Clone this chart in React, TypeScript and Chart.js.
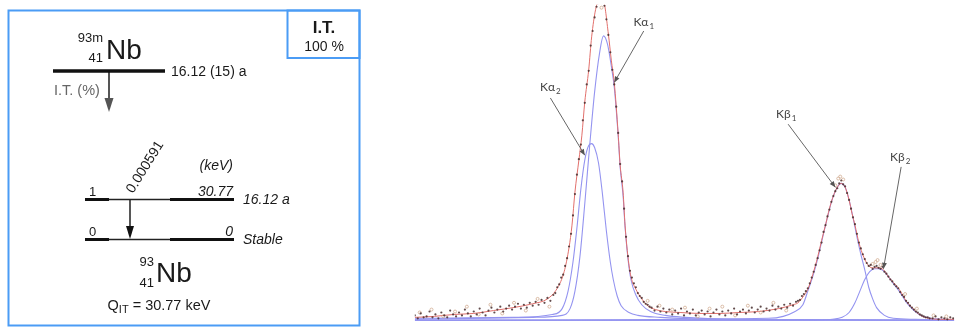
import React, { useEffect, useRef } from "react";
import { Chart, registerables } from "chart.js";

Chart.register(...registerables);

// ---------------- Spectrum data (x = MCA channel, y = counts) ----------------
const fitChannels = [0, 20, 40, 60, 80, 100, 120, 135, 145, 152, 157, 160, 163, 167, 170, 173, 177, 180, 184, 188, 192, 197, 200, 203, 207, 209, 212, 214, 217, 220, 225, 231, 237, 245, 255, 270, 290, 310, 330, 350, 370, 385, 390, 395, 400, 405, 410, 414, 418, 422, 426, 430, 434, 438, 442, 445, 448, 452, 457, 462, 467, 472, 477, 482, 487, 493, 500, 507, 515, 523, 535, 549];
const fitCounts = [3, 4, 6, 7, 10, 13, 17, 22, 33, 50, 75, 98, 132, 165, 190, 225, 258, 292, 320, 331, 329, 295, 268, 245, 192, 160, 132, 98, 65, 45, 32, 22, 15, 11, 9, 8, 7, 7, 8, 9, 12, 16, 18, 24, 32, 47, 65, 82, 98, 115, 128, 137, 141, 137, 124, 110, 98, 80, 65, 56, 54, 54, 52, 45, 39, 32, 20, 12, 5, 2, 1, 1];

const ka1Channels = [0, 120, 150, 158, 163, 168, 173, 178, 183, 188, 192, 196, 200, 203, 207, 209, 212, 214, 217, 220, 225, 231, 240, 255, 275, 320, 549];
const ka1Counts = [1, 3, 5, 12, 30, 65, 120, 180, 235, 275, 293, 285, 262, 240, 190, 158, 128, 96, 63, 42, 26, 16, 9, 5, 3, 1, 0];

const ka2Channels = [0, 100, 140, 150, 156, 161, 165, 169, 173, 177, 180, 183, 187, 191, 195, 199, 202, 206, 210, 218, 227, 250, 300, 549];
const ka2Counts = [2, 3, 6, 12, 30, 60, 95, 135, 165, 180, 182, 178, 162, 130, 92, 60, 42, 25, 15, 8, 5, 3, 1, 0];

const kb1Channels = [0, 360, 375, 385, 395, 400, 405, 410, 415, 420, 425, 430, 434, 438, 442, 446, 450, 454, 458, 462, 466, 470, 478, 487, 510, 549];
const kb1Counts = [0, 2, 4, 8, 16, 30, 45, 63, 85, 106, 125, 137, 141, 137, 124, 106, 86, 68, 52, 34, 22, 13, 5, 2, 1, 0];

const kb2Channels = [0, 400, 425, 435, 442, 448, 453, 458, 463, 468, 472, 477, 482, 487, 493, 500, 507, 515, 525, 540, 549];
const kb2Counts = [0, 0, 1, 3, 8, 18, 30, 42, 50, 53, 53, 51, 45, 38, 30, 19, 11, 5, 2, 1, 0];

const baselineChannels = [0, 549];
const baselineCounts = [0, 0];

const measuredPoints: [number, number][] = [
  [0, 5], [3, 2], [6, 7], [9, 3], [12, 4], [15, 9], [18, 3], [21, 6], [24, 2], [27, 8], [30, 5], [33, 3], [36, 10], [39, 6], [42, 4], [45, 8], [48, 5], [51, 11], [54, 7], [57, 4], [60, 9], [63, 6], [66, 12], [69, 8], [72, 5], [75, 10], [78, 13], [81, 8], [84, 11], [87, 14], [90, 9], [93, 12], [96, 15], [99, 11], [102, 14], [105, 17], [108, 12], [111, 16], [114, 13], [117, 18], [120, 15], [123, 19], [126, 16], [129, 21], [132, 18], [135, 23], [138, 20], [141, 26],
  [143, 28], [145, 34], [147, 37], [149, 44], [151, 47], [153, 56], [155, 64], [157, 76], [159, 89], [161, 108], [163, 130], [165, 150], [167, 166], [169, 181], [171, 206], [173, 224], [175, 243], [177, 257], [179, 283], [181, 298], [183, 312], [185, 323], [187, 328], [189, 330], [191, 329], [193, 324], [195, 310], [197, 294], [199, 276], [201, 258], [203, 243], [205, 220], [207, 193], [209, 161], [211, 143], [213, 115], [215, 86], [217, 66], [219, 51], [221, 44], [223, 38], [225, 34], [227, 28], [229, 25], [231, 23], [233, 19], [235, 17], [237, 16], [239, 14],
  [241, 13], [244, 10], [247, 14], [250, 9], [253, 12], [256, 8], [259, 11], [262, 6], [265, 10], [268, 7], [271, 12], [274, 5], [277, 9], [280, 7], [283, 11], [286, 5], [289, 8], [292, 10], [295, 6], [298, 9], [301, 4], [304, 8], [307, 11], [310, 6], [313, 9], [316, 5], [319, 10], [322, 7], [325, 12], [328, 6], [331, 9], [334, 11], [337, 7], [340, 10], [343, 13], [346, 8], [349, 11], [352, 14], [355, 9], [358, 12], [361, 10], [364, 15], [367, 11], [370, 14], [373, 12], [376, 16], [379, 13], [382, 17], [385, 15], [388, 19],
  [390, 20], [392, 21], [394, 25], [396, 27], [398, 30], [400, 33], [402, 38], [404, 44], [406, 50], [408, 57], [410, 64], [412, 72], [414, 80], [416, 91], [418, 98], [420, 107], [422, 114], [424, 122], [426, 128], [428, 133], [430, 136], [432, 141], [434, 144], [436, 140], [438, 138], [440, 131], [442, 124], [444, 115], [446, 106], [448, 99], [450, 89], [452, 80], [454, 74], [456, 68], [458, 63], [460, 59], [462, 56], [464, 57], [466, 53], [468, 55], [470, 56], [472, 54], [474, 53], [476, 55], [478, 50], [480, 48], [482, 45], [484, 42], [486, 40], [488, 37], [490, 35], [492, 33], [494, 29], [496, 26], [498, 24], [500, 20], [502, 18], [504, 15], [506, 13], [508, 11], [510, 9], [512, 8], [514, 6], [516, 5], [518, 4], [520, 3], [522, 3], [524, 2],
  [527, 2], [530, 4], [533, 1], [536, 3], [539, 2], [542, 1], [545, 3], [548, 2],
];

const paleMeasuredPoints: [number, number][] = [
  [5, 8], [17, 11], [29, 4], [41, 9], [53, 14], [65, 6], [77, 16], [89, 7], [101, 18], [113, 10], [125, 22], [137, 14], [186, 327], [190, 322], [237, 20], [249, 15], [262, 11], [275, 13], [288, 4], [300, 12], [313, 14], [326, 5], [339, 15], [352, 8], [365, 18], [378, 10], [428, 139], [431, 146], [433, 148], [436, 145], [466, 58], [469, 60], [471, 62], [474, 57], [499, 27], [511, 12], [528, 5], [541, 4],
];

// Peak annotations (data coordinates)
const peakNames = ["Kα", "Kα", "Kβ", "Kβ"];
const peakSubs = ["1", "2", "1", "2"];
const labelChannels = [233, 138, 378, 494];
const labelCounts = [307, 240, 212, 168];
const arrowFromChannels = [233, 138, 380, 495];
const arrowFromCounts = [298, 229, 202, 158];
const arrowToChannels = [203, 173, 428, 477];
const arrowToCounts = [245, 170, 137, 53];

// ---------------- Decay scheme content ----------------
const parentMass = "93m";
const parentZ = "41";
const daughterMass = "93";
const daughterZ = "41";
const element = "Nb";
const parentHalfLife = "16.12 (15) a";
const decayMode = "I.T.";
const decayBranch = "100 %";
const modeLabel = "I.T. (%)";
const gammaIntensity = "0.000591";
const levelSpins = ["1", "0"];
const levelEnergies = ["30.77", "0"];
const levelHalfLives = ["16.12 a", "Stable"];
const qValue = "= 30.77 keV";

const BOX = "#4b9cf5";
const SANS = '"Liberation Sans", Arial, sans-serif';

function xy(xs: number[], ys: number[]) {
  return xs.map((x, i) => ({ x, y: ys[i] }));
}

function arrowHead(ctx: CanvasRenderingContext2D, fx: number, fy: number, tx: number, ty: number, len: number, half: number, color: string) {
  const a = Math.atan2(ty - fy, tx - fx);
  ctx.fillStyle = color;
  ctx.beginPath();
  ctx.moveTo(tx, ty);
  ctx.lineTo(tx - len * Math.cos(a) + half * Math.sin(a), ty - len * Math.sin(a) - half * Math.cos(a));
  ctx.lineTo(tx - len * Math.cos(a) - half * Math.sin(a), ty - len * Math.sin(a) + half * Math.cos(a));
  ctx.closePath();
  ctx.fill();
}

const peakLabelPlugin = {
  id: "peakLabels",
  afterDatasetsDraw(chart: any) {
    const { ctx, scales } = chart;
    const X = (v: number) => scales.x.getPixelForValue(v);
    const Y = (v: number) => scales.y.getPixelForValue(v);
    ctx.save();
    peakNames.forEach((name, i) => {
      const lx = X(labelChannels[i]);
      const ly = Y(labelCounts[i]);
      ctx.font = `12px Lato, "Open Sans", sans-serif`;
      const w1 = ctx.measureText(name).width;
      ctx.font = `8px Lato, "Open Sans", sans-serif`;
      const w2 = ctx.measureText(peakSubs[i]).width;
      const sx = lx - (w1 + w2 + 1) / 2;
      ctx.fillStyle = "#444";
      ctx.textBaseline = "alphabetic";
      ctx.textAlign = "left";
      ctx.font = `12px Lato, "Open Sans", sans-serif`;
      ctx.fillText(name, sx, ly + 4);
      ctx.font = `8px Lato, "Open Sans", sans-serif`;
      ctx.fillText(peakSubs[i], sx + w1 + 1, ly + 7);
      const fx = X(arrowFromChannels[i]);
      const fy = Y(arrowFromCounts[i]);
      const tx = X(arrowToChannels[i]);
      const ty = Y(arrowToCounts[i]);
      ctx.strokeStyle = "#666";
      ctx.lineWidth = 1;
      ctx.beginPath();
      ctx.moveTo(fx, fy);
      ctx.lineTo(tx, ty);
      ctx.stroke();
      arrowHead(ctx, fx, fy, tx, ty, 6, 2.5, "#555");
    });
    ctx.restore();
  },
};

// ---------------- Decay scheme drawing ----------------
const parentLevel = { x1: 53, x2: 165, y: 71 };
const levelRows = [199.5, 239.5];
const levelThick1 = [85, 109];
const levelThin = [109, 170];
const levelThick2 = [170, 234];
const itArrow = { x: 109, y1: 71, y2: 112 };
const gammaArrow = { x: 130, y1: 199.5, y2: 239 };

const schemePlugin = {
  id: "scheme",
  afterDatasetsDraw(chart: any) {
    const { ctx, scales } = chart;
    const X = (v: number) => scales.x.getPixelForValue(v);
    const Y = (v: number) => scales.y.getPixelForValue(v);
    ctx.save();
    ctx.strokeStyle = BOX;
    ctx.lineWidth = 2;
    ctx.strokeRect(X(8.5), Y(10.5), X(359.5) - X(8.5), Y(325.5) - Y(10.5));
    ctx.strokeRect(X(287.5), Y(10.5), X(359.5) - X(287.5), Y(58) - Y(10.5));

    const txt = (s: string, x: number, y: number, font: string, align: CanvasTextAlign = "left", color = "#1a1a1a") => {
      ctx.font = font;
      ctx.textAlign = align;
      ctx.textBaseline = "alphabetic";
      ctx.fillStyle = color;
      ctx.fillText(s, X(x), Y(y));
    };

    txt(decayMode, 324, 33, `bold 17px ${SANS}`, "center");
    txt(decayBranch, 324, 51, `14px ${SANS}`, "center");

    txt(parentMass, 103, 42, `13px ${SANS}`, "right");
    txt(parentZ, 103, 62, `13px ${SANS}`, "right");
    txt(element, 106, 59, `28px ${SANS}`, "left");
    txt(parentHalfLife, 171, 76, `14px ${SANS}`, "left");
    txt(modeLabel, 54, 95, `14.5px ${SANS}`, "left", "#666");

    arrowHead(ctx, X(itArrow.x), Y(itArrow.y1), X(itArrow.x), Y(itArrow.y2), 14, 4.5, "#555");
    arrowHead(ctx, X(gammaArrow.x), Y(gammaArrow.y1), X(gammaArrow.x), Y(gammaArrow.y2), 13, 4, "#111");

    ctx.save();
    ctx.translate(X(133), Y(194));
    ctx.rotate((-58 * Math.PI) / 180);
    ctx.font = `14px ${SANS}`;
    ctx.textAlign = "left";
    ctx.textBaseline = "alphabetic";
    ctx.fillStyle = "#1a1a1a";
    ctx.fillText(gammaIntensity, 0, 0);
    ctx.restore();

    txt("(keV)", 233, 170, `italic 14px ${SANS}`, "right");
    levelRows.forEach((row, i) => {
      txt(levelSpins[i], 89, row - 4, `13px ${SANS}`, "left");
      txt(levelEnergies[i], 233, row - 4, `italic 14px ${SANS}`, "right");
      txt(levelHalfLives[i], 243, row + 4, `italic 14px ${SANS}`, "left");
    });

    txt(daughterMass, 154, 266, `13px ${SANS}`, "right");
    txt(daughterZ, 154, 287, `13px ${SANS}`, "right");
    txt(element, 156, 282, `28px ${SANS}`, "left");

    ctx.font = `14.5px ${SANS}`;
    const wQ = ctx.measureText("Q").width;
    const wRest = ctx.measureText(" " + qValue).width;
    ctx.font = `11px ${SANS}`;
    const wSub = ctx.measureText("IT").width;
    const start = 159 - (wQ + wSub + wRest) / 2;
    txt("Q", start, 310, `14.5px ${SANS}`, "left");
    txt("IT", start + wQ, 313, `11px ${SANS}`, "left");
    txt(" " + qValue, start + wQ + wSub, 310, `14.5px ${SANS}`, "left");
    ctx.restore();
  },
};

function seg(x1: number, y1: number, x2: number, y2: number, width: number, color: string) {
  return {
    data: [{ x: x1, y: y1 }, { x: x2, y: y2 }],
    showLine: true,
    borderColor: color,
    borderWidth: width,
    pointRadius: 0,
    borderCapStyle: "butt",
  };
}

export default function App() {
  const leftRef = useRef<HTMLCanvasElement>(null);
  const rightRef = useRef<HTMLCanvasElement>(null);

  useEffect(() => {
    const leftDatasets: any[] = [seg(parentLevel.x1, parentLevel.y, parentLevel.x2, parentLevel.y, 3.5, "#111")];
    levelRows.forEach((row) => {
      leftDatasets.push(seg(levelThick1[0], row, levelThick1[1], row, 3, "#111"));
      leftDatasets.push(seg(levelThin[0], row, levelThin[1], row, 1.5, "#222"));
      leftDatasets.push(seg(levelThick2[0], row, levelThick2[1], row, 3, "#111"));
    });
    leftDatasets.push(seg(itArrow.x, itArrow.y1, itArrow.x, itArrow.y2 - 10, 2, "#555"));
    leftDatasets.push(seg(gammaArrow.x, gammaArrow.y1, gammaArrow.x, gammaArrow.y2 - 10, 1.4, "#111"));

    const left = new Chart(leftRef.current!, {
      type: "scatter",
      data: { datasets: leftDatasets },
      options: {
        animation: false,
        responsive: false,
        events: [],
        layout: { padding: 0 },
        plugins: { legend: { display: false }, tooltip: { enabled: false } },
        scales: {
          x: { type: "linear", display: false, min: 0, max: 370 },
          y: { type: "linear", display: false, min: 0, max: 327, reverse: true },
        },
      },
      plugins: [schemePlugin],
    });

    const curve = (xs: number[], ys: number[], color: string, width: number, order: number) => ({
      data: xy(xs, ys),
      showLine: true,
      borderColor: color,
      borderWidth: width,
      pointRadius: 0,
      cubicInterpolationMode: "monotone",
      order,
    });
    const blue = "#9494f0";
    const right = new Chart(rightRef.current!, {
      type: "scatter",
      data: {
        datasets: [
          {
            data: measuredPoints.map(([x, y]) => ({ x, y })),
            pointRadius: 1.1,
            pointBackgroundColor: "rgba(70,45,45,0.85)",
            pointBorderWidth: 0,
            order: 0,
          },
          {
            data: paleMeasuredPoints.map(([x, y]) => ({ x, y })),
            pointRadius: 1.5,
            pointBackgroundColor: "rgba(0,0,0,0)",
            pointBorderColor: "rgba(205,165,135,0.9)",
            pointBorderWidth: 0.8,
            order: 1,
          },
          curve(fitChannels, fitCounts, "#e2706c", 1, 2),
          curve(ka1Channels, ka1Counts, blue, 1.1, 3),
          curve(ka2Channels, ka2Counts, blue, 1.1, 4),
          curve(kb1Channels, kb1Counts, blue, 1.1, 5),
          curve(kb2Channels, kb2Counts, blue, 1.1, 6),
          curve(baselineChannels, baselineCounts, "#a3a3f5", 1.6, 7),
        ] as any,
      },
      options: {
        animation: false,
        responsive: false,
        events: [],
        layout: { padding: 0 },
        plugins: { legend: { display: false }, tooltip: { enabled: false } },
        scales: {
          x: { type: "linear", display: false, min: 0, max: 549 },
          y: { type: "linear", display: false, min: -2, max: 325 },
        },
      },
      plugins: [peakLabelPlugin],
    });

    return () => {
      left.destroy();
      right.destroy();
    };
  }, []);

  return (
    <div style={{ position: "absolute", left: 0, top: 0, width: 959, height: 327, background: "#fff", overflow: "hidden" }}>
      <canvas ref={leftRef} width={370} height={327} style={{ position: "absolute", left: 0, top: 0, width: 370, height: 327 }} />
      <canvas ref={rightRef} width={549} height={327} style={{ position: "absolute", left: 410, top: 0, width: 549, height: 327 }} />
    </div>
  );
}
